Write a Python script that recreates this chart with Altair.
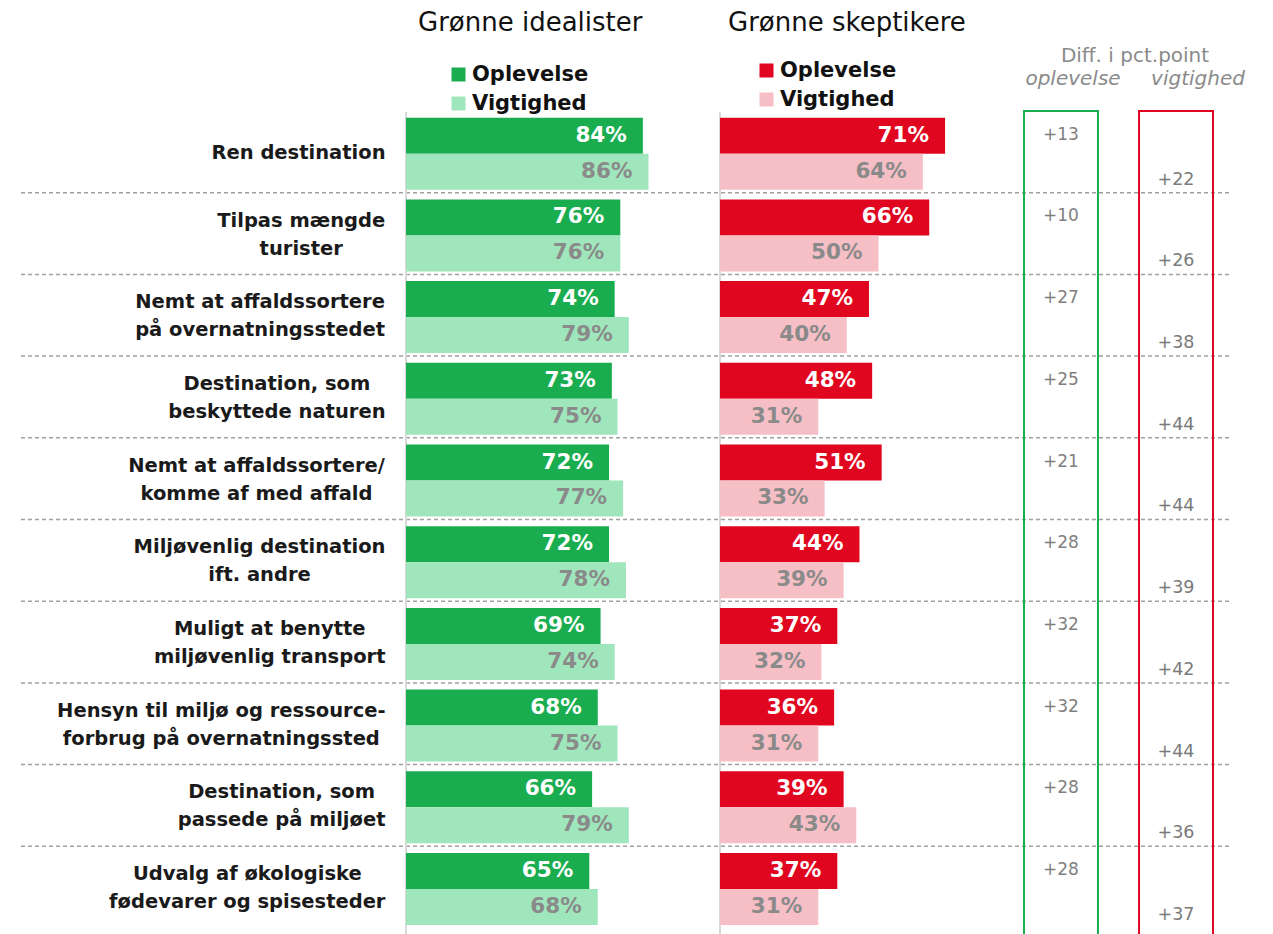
import json
import altair as alt
import pandas as pd

categories = [
    "Ren destination",
    "Tilpas mængde|turister",
    "Nemt at affaldssortere|på overnatningsstedet",
    "Destination, som|beskyttede naturen",
    "Nemt at affaldssortere/|komme af med affald",
    "Miljøvenlig destination|ift. andre",
    "Muligt at benytte|miljøvenlig transport",
    "Hensyn til miljø og ressource-|forbrug på overnatningssted",
    "Destination, som|passede på miljøet",
    "Udvalg af økologiske|fødevarer og spisesteder",
]
series = ["Oplevelse", "Vigtighed"]
idealister_oplevelse = [84, 76, 74, 73, 72, 72, 69, 68, 66, 65]
idealister_vigtighed = [86, 76, 79, 75, 77, 78, 74, 75, 79, 68]
skeptikere_oplevelse = [71, 66, 47, 48, 51, 44, 37, 36, 39, 37]
skeptikere_vigtighed = [64, 50, 40, 31, 33, 39, 32, 31, 43, 31]
diff_oplevelse = [13, 10, 27, 25, 21, 28, 32, 32, 28, 28]
diff_vigtighed = [22, 26, 38, 44, 44, 39, 42, 44, 36, 37]
group_titles = ["Grønne idealister", "Grønne skeptikere"]
diff_title = "Diff. i pct.point"
diff_subtitles = ["oplevelse", "vigtighed"]

G_DARK, G_LIGHT = "#19AD50", "#A0E6BC"
R_DARK, R_LIGHT = "#E1061F", "#F6BFC6"
GRAY_TXT = "#8a8a8a"
FONT = "DejaVu Sans"
LABEL_SIZE = 19.5
LABEL_PAD = 21

W, H = 1210, 926
ROW_TOP, ROW_BOT = 103, 920

# approximate advance widths (DejaVu Sans Bold, 1/2048 em) used to place the centred,
# wrapped category labels so that each block ends at the same right edge
_ADV = {" ": 713, "/": 748, ",": 779, ".": 779, "-": 852, "a": 1382, "b": 1466, "c": 1214,
        "d": 1466, "e": 1389, "f": 891, "g": 1466, "h": 1458, "i": 702, "j": 702, "k": 1362,
        "l": 702, "m": 2134, "n": 1458, "o": 1407, "p": 1466, "q": 1466, "r": 1010, "s": 1219,
        "t": 979, "u": 1458, "v": 1331, "w": 1849, "x": 1321, "y": 1331, "z": 1204, "æ": 2218,
        "ø": 1407, "å": 1382, "D": 1702, "H": 1714, "M": 2052, "N": 1714, "R": 1570,
        "T": 1399, "U": 1663}


def _px(s):
    return sum(_ADV.get(ch, 1650) for ch in s) / 2048 * LABEL_SIZE


pad_conditions = [
    {"test": "datum.value == " + json.dumps(c),
     "value": round(LABEL_PAD + max(_px(p) for p in c.split("|")) / 2, 1)}
    for c in categories
]


def long_df(op, vi, fmt):
    rows = []
    for c, a, b in zip(categories, op, vi):
        rows.append({"cat": c, "series": "Oplevelse", "value": a, "label": fmt.format(a)})
        rows.append({"cat": c, "series": "Vigtighed", "value": b, "label": fmt.format(b)})
    return pd.DataFrame(rows)


df_g = long_df(idealister_oplevelse, idealister_vigtighed, "{}%")
df_r = long_df(skeptikere_oplevelse, skeptikere_vigtighed, "{}%")
df_diff = long_df(diff_oplevelse, diff_vigtighed, "+{}")
df_sep = pd.DataFrame({"cat": categories[1:]})
df_box = pd.DataFrame({"series": series})
df_zero = pd.DataFrame({"value": [0]})

yscale = alt.Scale(domain=categories, range=[ROW_TOP, ROW_BOT], paddingInner=0, paddingOuter=0)
yoff = alt.Scale(domain=series, paddingInner=0, paddingOuter=0.135, align=0.69)
yaxis = alt.Axis(
    title=None, labelExpr="split(datum.label, '|')", labelAlign="center", offset=-385,
    labelPadding={"condition": pad_conditions, "value": LABEL_PAD},
    labelFontSize=LABEL_SIZE, labelFontWeight="bold", labelColor="#1a1a1a",
    labelLineHeight=28, labelLimit=0, ticks=False, domain=False, grid=False, labelFont=FONT,
    labelOffset={"condition": {"test": "indexof(datum.value, '|') >= 0", "value": -13}, "value": 1},
)
Y_AX = alt.Y("cat:N", sort=categories, scale=yscale, axis=yaxis)
YO = alt.YOffset("series:N", scale=yoff)

# separators (dashed)
seps = alt.Chart(df_sep).mark_rule(strokeDash=[4, 3], color="#a0a0a0", strokeWidth=1.5).encode(
    y=alt.Y("cat:N", sort=categories, scale=yscale, bandPosition=0, axis=yaxis),
    x=alt.value(0), x2=alt.value(W - 2),
)


def bar_group(df, rng, dark, light, legx, legy):
    x = alt.X("value:Q", scale=alt.Scale(domain=[0, 100], range=rng), axis=None)
    zero = alt.Chart(df_zero).mark_rule(color="#d9d9d9", strokeWidth=2).encode(
        x=x, y=alt.value(ROW_TOP + 1), y2=alt.value(H))
    bars = alt.Chart(df).mark_bar().encode(
        x=x, y=Y_AX, yOffset=YO,
        color=alt.Color(
            "series:N", scale=alt.Scale(domain=series, range=[dark, light]),
            legend=alt.Legend(
                orient="none", legendX=legx, legendY=legy, title=None,
                symbolType="square", symbolSize=196, symbolStrokeWidth=0,
                labelFontSize=21, labelFontWeight="bold", labelColor="#111",
                labelFont=FONT, labelOffset=3, rowPadding=7,
            ),
        ),
    )
    texts = alt.Chart(df).mark_text(align="right", dx=-16, fontSize=21.5, fontWeight="bold", font=FONT).encode(
        x=x, y=Y_AX, yOffset=YO, text="label:N",
        color=alt.condition("datum.series == 'Oplevelse'", alt.value("white"), alt.value(GRAY_TXT)),
    )
    return alt.layer(zero, bars, texts)


green = bar_group(df_g, [385, 667], G_DARK, G_LIGHT, 427, 56)
red = bar_group(df_r, [699, 1016], R_DARK, R_LIGHT, 735, 52)

xd = alt.X("series:N", scale=alt.Scale(domain=series, range=[1003, 1192], paddingInner=0.357, paddingOuter=0), axis=None)
boxes = alt.Chart(df_box).mark_rect(filled=False, strokeWidth=2).encode(
    x=xd, y=alt.value(ROW_TOP), y2=alt.value(H + 4),
    stroke=alt.Stroke("series:N", scale=alt.Scale(domain=series, range=[G_DARK, R_DARK]), legend=None),
)
t_op = alt.Chart(df_diff).transform_filter("datum.series == 'Oplevelse'").mark_text(
    fontSize=17, color="#7f7f7f", font=FONT, dy=-1).encode(x=xd, y=Y_AX, yOffset=YO, text="label:N")
t_vi = alt.Chart(df_diff).transform_filter("datum.series == 'Vigtighed'").mark_text(
    fontSize=17.5, color="#7a7a7a", font=FONT, dy=8).encode(x=xd, y=Y_AX, yOffset=YO, text="label:N")
diff = alt.layer(boxes, t_op, t_vi)


def header(text, x, y, size, align="left", color="#111", style="normal"):
    return alt.Chart(pd.DataFrame({"t": [text]})).mark_text(
        align=align, baseline="alphabetic", fontSize=size, color=color, font=FONT, fontStyle=style
    ).encode(text="t:N", x=alt.value(x), y=alt.value(y))


h1 = header(group_titles[0], 397, 23, 26)
h2 = header(group_titles[1], 707, 23, 26)
h3 = header(diff_title, 1114, 54, 20, "center", GRAY_TXT)
h4 = header(diff_subtitles[0], 1052, 77, 20, "center", GRAY_TXT, "italic")
h5 = header(diff_subtitles[1], 1177, 77, 20, "center", GRAY_TXT, "italic")

chart = alt.layer(seps, green, red, diff, h1, h2, h3, h4, h5).resolve_scale(
    x="independent", color="independent", stroke="independent"
).properties(
    width=W, height=H,
    padding={"left": 12, "top": 0, "right": 5, "bottom": 0},
).configure(font=FONT, background="white").configure_view(stroke=None)

chart.save("out.html", embed_options={"renderer": "svg", "actions": False})
